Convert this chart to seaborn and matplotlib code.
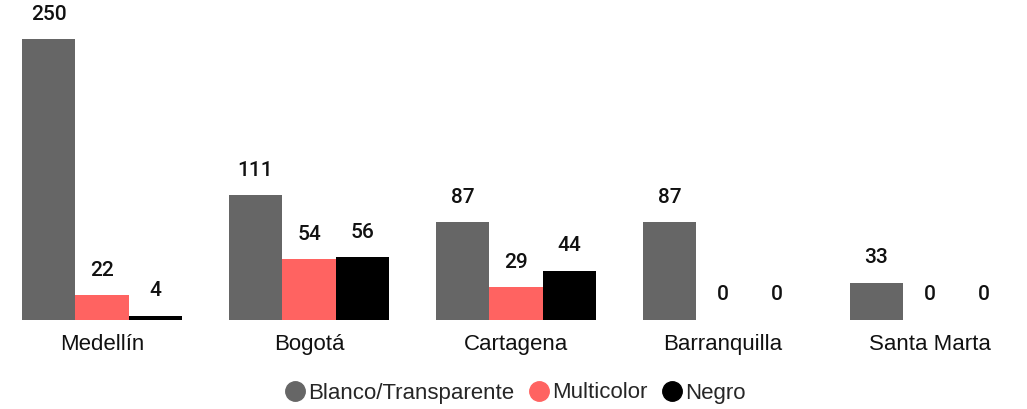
import numpy as np
import pandas as pd
import seaborn as sns
import matplotlib.pyplot as plt
from matplotlib.lines import Line2D

# datos
ciudades = ["Medellín", "Bogotá", "Cartagena", "Barranquilla", "Santa Marta"]
blanco = [250, 111, 87, 87, 33]
multicolor = [22, 54, 29, 0, 0]
negro = [4, 56, 44, 0, 0]
series = ["Blanco/Transparente", "Multicolor", "Negro"]
colores = ["#666666", "#FF6361", "#000000"]

df = pd.DataFrame({
    "ciudad": ciudades * 3,
    "color": [series[0]] * 5 + [series[1]] * 5 + [series[2]] * 5,
    "valor": blanco + multicolor + negro,
})

sns.set_theme(style="white")
plt.rcParams["font.family"] = ["Liberation Sans", "DejaVu Sans"]

fig = plt.figure(figsize=(10.27, 4.09), dpi=100)
ax = fig.add_axes([0, 89 / 409, 1, 320 / 409])

sns.barplot(data=df, x="ciudad", y="valor", hue="color", palette=colores,
            width=0.775, saturation=1, linewidth=0, ax=ax, legend=False)

ax.set_xlim(-0.493, 4.469)
ax.set_ylim(0, 284.7)
ax.set_xlabel("")
ax.set_ylabel("")
ax.set_yticks([])
ax.tick_params(axis="x", length=0, pad=10, labelsize=16, labelcolor="#111111")
sns.despine(ax=ax, left=True, bottom=True)

# etiquetas de valores
for cont in ax.containers:
    for barra in cont:
        h = barra.get_height()
        ax.annotate(f"{h:.0f}", (barra.get_x() + barra.get_width() / 2, h),
                    xytext=(0, 18), textcoords="offset points",
                    ha="center", va="center", fontsize=15,
                    family=["Roboto", "DejaVu Sans"], fontweight="medium",
                    color="#111111")

handles = [Line2D([], [], marker="o", linestyle="", markersize=14,
                  markerfacecolor=c, markeredgecolor=c) for c in colores]
fig.legend(handles, series, loc="center", bbox_to_anchor=(0.5, 16 / 409),
           ncol=3, frameon=False, fontsize=16, handletextpad=0.0,
           columnspacing=0.5, handlelength=1.2)

fig.savefig("out.png", dpi=100)
